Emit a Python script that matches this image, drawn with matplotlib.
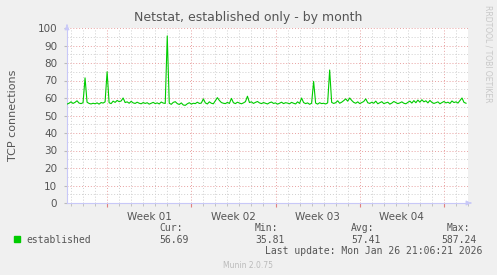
import matplotlib
matplotlib.use("Agg")
import matplotlib.pyplot as plt
import numpy as np
from matplotlib.ticker import MultipleLocator, FixedLocator

# one sample every 4 hours over the visible month
established = [
    56.5, 57.0, 57.8, 56.9, 57.5, 58.4, 57.1, 56.8, 57.3, 71.5, 57.6, 56.9, 56.6, 57.0, 56.7, 57.2, 56.5, 57.4, 57.1, 57.8,
    75.0, 57.3, 56.8, 58.2, 57.5, 58.6, 57.9, 58.3, 60.0, 57.4, 57.8, 57.0, 58.1, 57.2, 56.9, 57.6, 57.0, 56.7, 57.4, 56.9,
    57.3, 56.5, 57.0, 57.5, 56.8, 57.2, 56.6, 57.7, 57.1, 56.9, 95.5, 57.0, 56.4, 57.5, 57.9, 56.8, 56.3, 57.2, 56.0, 55.8,
    56.7, 57.3, 56.5, 57.0, 56.8, 57.6, 56.9, 57.1, 59.5, 57.2, 56.6, 57.8, 57.0, 56.7, 58.5, 60.2, 58.6, 57.4, 57.0, 56.8,
    57.5, 56.9, 59.8, 57.3, 56.8, 57.6, 57.1, 56.7, 57.2, 57.9, 61.0, 57.4, 57.8, 56.9, 57.5, 58.0, 57.2, 56.8, 57.4, 57.0,
    56.6, 57.3, 57.7, 56.9, 57.2, 56.5, 57.0, 57.6, 56.8, 57.3, 57.1, 56.7, 57.5, 57.0, 56.6, 57.8, 56.9, 60.0, 57.4, 56.8,
    57.2, 56.4, 57.0, 69.5, 57.1, 56.5, 57.3, 56.8, 57.0, 56.6, 57.2, 76.0, 57.5, 56.9, 57.3, 58.4, 57.0, 57.6, 58.5, 59.5,
    58.2, 60.0, 58.6, 57.5, 57.0, 57.8, 56.8, 57.4, 58.0, 59.5, 57.3, 56.9, 57.6, 57.0, 58.2, 56.7, 57.3, 57.9, 56.8, 57.2,
    57.6, 56.5, 57.1, 58.0, 57.4, 56.8, 57.2, 57.8, 57.0, 56.7, 57.5, 58.2, 57.1, 58.5, 57.3, 58.8, 57.6, 59.0, 57.8, 58.4,
    57.2, 58.6, 57.5, 56.9, 57.3, 57.8, 56.7, 57.4, 58.0, 57.2, 57.6, 56.9, 58.3, 57.4, 57.8, 57.1, 58.6, 60.0, 57.5, 57.0,
]
week_labels = ["Week 01", "Week 02", "Week 03", "Week 04"]
week_starts = [10 / 3, 31 / 3, 52 / 3, 73 / 3, 94 / 3]  # days from left edge
summary_cols = ["Cur:", "Min:", "Avg:", "Max:"]
summary_vals = ["56.69", "35.81", "57.41", "587.24"]

W, H = 497, 275
BG = "#f0f0f0"
TXT = "#555555"
AXIS = "#c8c8f8"
GREEN = "#00cc00"

fig = plt.figure(figsize=(W / 100, H / 100), dpi=100, facecolor=BG)
ax = fig.add_axes([67 / W, 72 / H, 401 / W, 175 / H])
ax.set_facecolor("white")

t = np.arange(len(established)) / 6.0
ax.plot(t, established, color=GREEN, linewidth=0.8, zorder=3)

ax.set_xlim(0, 400 / 12)
ax.set_ylim(0, 100)

ax.xaxis.set_major_locator(FixedLocator(week_starts))
ax.xaxis.set_minor_locator(FixedLocator(np.arange(1 / 3, 33.4, 1)))
ax.yaxis.set_major_locator(MultipleLocator(10))
ax.yaxis.set_minor_locator(MultipleLocator(5))
ax.set_xticklabels([])

ax.grid(which="minor", color="#cfcfcf", linestyle=(0, (1, 2)), linewidth=0.7, zorder=1)
ax.grid(which="major", color="#e8a0a0", linestyle=(0, (1, 2)), linewidth=0.7, zorder=2)

ax.tick_params(axis="x", which="major", length=3, color="#e08080", direction="out")
ax.tick_params(axis="x", which="minor", length=2, color="#bbbbbb", direction="out")
ax.tick_params(axis="y", which="major", length=2, color="#bbbbbb", labelsize=7.5,
               labelcolor=TXT, pad=5)
ax.tick_params(axis="y", which="minor", length=0)

for side in ("top", "right"):
    ax.spines[side].set_visible(False)
for side in ("left", "bottom"):
    ax.spines[side].set_color(AXIS)
    ax.spines[side].set_linewidth(0.8)

# axis arrows
ax.annotate("", xy=(0, 1.035), xytext=(0, 1.0), xycoords="axes fraction",
            arrowprops=dict(arrowstyle="-|>", color=AXIS, lw=0.8, mutation_scale=7),
            annotation_clip=False)
ax.annotate("", xy=(1.015, 0), xytext=(1.0, 0), xycoords="axes fraction",
            arrowprops=dict(arrowstyle="-|>", color=AXIS, lw=0.8, mutation_scale=7),
            annotation_clip=False)

xtr = ax.get_xaxis_transform()
for start, label in zip(week_starts, week_labels):
    ax.text(start + 3.5, -0.05, label, transform=xtr, ha="center", va="top",
            fontsize=7.5, color=TXT)

ax.set_ylabel("TCP connections", fontsize=8, color=TXT, labelpad=14)

fig.text(248 / W, 1 - 18 / H, "Netstat, established only - by month",
         ha="center", va="center", fontsize=9, color=TXT)
fig.text(488 / W, 1 - 5 / H, "RRDTOOL / TOBI OETIKER", rotation=270,
         ha="center", va="top", fontsize=5.5, color="#c8c8c8")

mono = "DejaVu Sans Mono"
fig.patches.append(plt.Rectangle((14 / W, 1 - 242 / H), 6 / W, 6 / H,
                                 transform=fig.transFigure, color=GREEN))
fig.text(26 / W, 1 - 240 / H, "established", family=mono, fontsize=7,
         color=TXT, va="center")
col_x = [159, 255, 351]
for x, head, val in zip(col_x, summary_cols[:3], summary_vals[:3]):
    fig.text(x / W, 1 - 228 / H, head, family=mono, fontsize=7, color=TXT, va="center")
    fig.text(x / W, 1 - 240 / H, val, family=mono, fontsize=7, color=TXT, va="center")
fig.text(470 / W, 1 - 228 / H, summary_cols[3], family=mono, fontsize=7,
         color=TXT, va="center", ha="right")
fig.text(477 / W, 1 - 240 / H, summary_vals[3], family=mono, fontsize=7,
         color=TXT, va="center", ha="right")
fig.text(482 / W, 1 - 251 / H, "Last update: Mon Jan 26 21:06:21 2026",
         family=mono, fontsize=7, color=TXT, va="center", ha="right")
fig.text(248 / W, 1 - 265 / H, "Munin 2.0.75", ha="center", va="center",
         fontsize=5.5, color="#bbbbbb")

fig.savefig("out.png", dpi=100, facecolor=BG)
